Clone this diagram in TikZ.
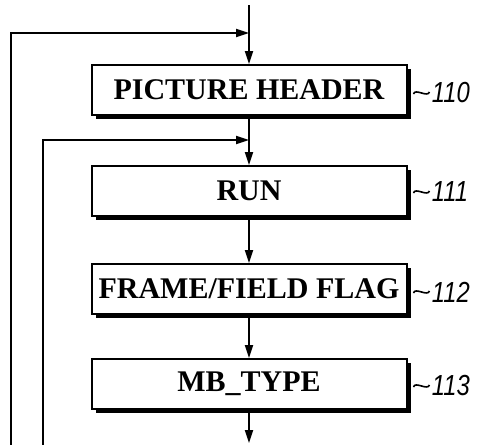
\documentclass[tikz,border=0pt]{standalone}
\usepackage{fontspec}
\setmainfont{Liberation Serif}
\newfontfamily\numfont[FakeStretch=0.82]{Liberation Sans}
\usetikzlibrary{arrows.meta,positioning,shadows}

\begin{document}
\begin{tikzpicture}[
  every node/.style={font=\bfseries\fontsize{15}{18}\selectfont},
  block/.style={rectangle, draw, line width=1pt, fill=white,
                minimum width=157.5pt, minimum height=25pt, inner sep=0pt,
                drop shadow={shadow xshift=2pt, shadow yshift=-2pt,
                             fill=black, opacity=1}},
  refnum/.style={font=\numfont\itshape\fontsize{14.5}{16}\selectfont,
                 anchor=west, inner sep=0pt},
  tilde/.style={line width=0.8pt},
  arr/.style={-{Triangle[length=6.5pt, width=4pt]}, line width=0.9pt},
]
\useasboundingbox (0,0) rectangle (239pt,-222.5pt);

\node[block] (B110) at (124.5pt,-45pt) {PICTURE HEADER};
\node[block, below=24.5pt of B110] (B111) {RUN};
\node[block, below=23pt of B111] (B112) {FRAME/FIELD FLAG};
\node[block, below=21.5pt of B112] (B113) {MB\_TYPE};

% reference numerals
\node[refnum] (L110) at ([xshift=12pt,yshift=-1.5pt]B110.east) {110};
\node[refnum] (L111) at ([xshift=12pt,yshift=-0.5pt]B111.east) {111};
\node[refnum] (L112) at ([xshift=12pt,yshift=-1.5pt]B112.east) {112};
\node[refnum] (L113) at ([xshift=12pt,yshift=-1pt]B113.east) {113};
\draw[tilde] ([xshift=3pt,yshift=-2pt]B110.east) to[out=75,in=-110] ([xshift=-1pt,yshift=0.5pt]L110.west);
\draw[tilde] ([xshift=3pt,yshift=-1pt]B111.east) to[out=75,in=-110] ([xshift=-1pt,yshift=0.5pt]L111.west);
\draw[tilde] ([xshift=3pt,yshift=-2pt]B112.east) to[out=75,in=-110] ([xshift=-1pt,yshift=0.5pt]L112.west);
\draw[tilde] ([xshift=3pt,yshift=-1.5pt]B113.east) to[out=75,in=-110] ([xshift=-1pt,yshift=0.5pt]L113.west);

% main flow
\coordinate (top) at (124.5pt,-2.5pt);
\coordinate (bottom) at (124.5pt,-221.5pt);
\coordinate (join1) at (124.5pt,-16.5pt);
\coordinate (join2) at (124.5pt,-70pt);
\coordinate (loop1) at (5.5pt,-222.5pt);
\coordinate (loop2) at (21.5pt,-222.5pt);

\draw[arr] (top) -- (B110);
\draw[arr] (B110) -- (B111);
\draw[arr] (B111) -- (B112);
\draw[arr] (B112) -- (B113);
\draw[arr] (B113) -- (bottom);

% loops back
\draw[arr] (loop1) |- (join1);
\draw[arr] (loop2) |- (join2);

\end{tikzpicture}
\end{document}
